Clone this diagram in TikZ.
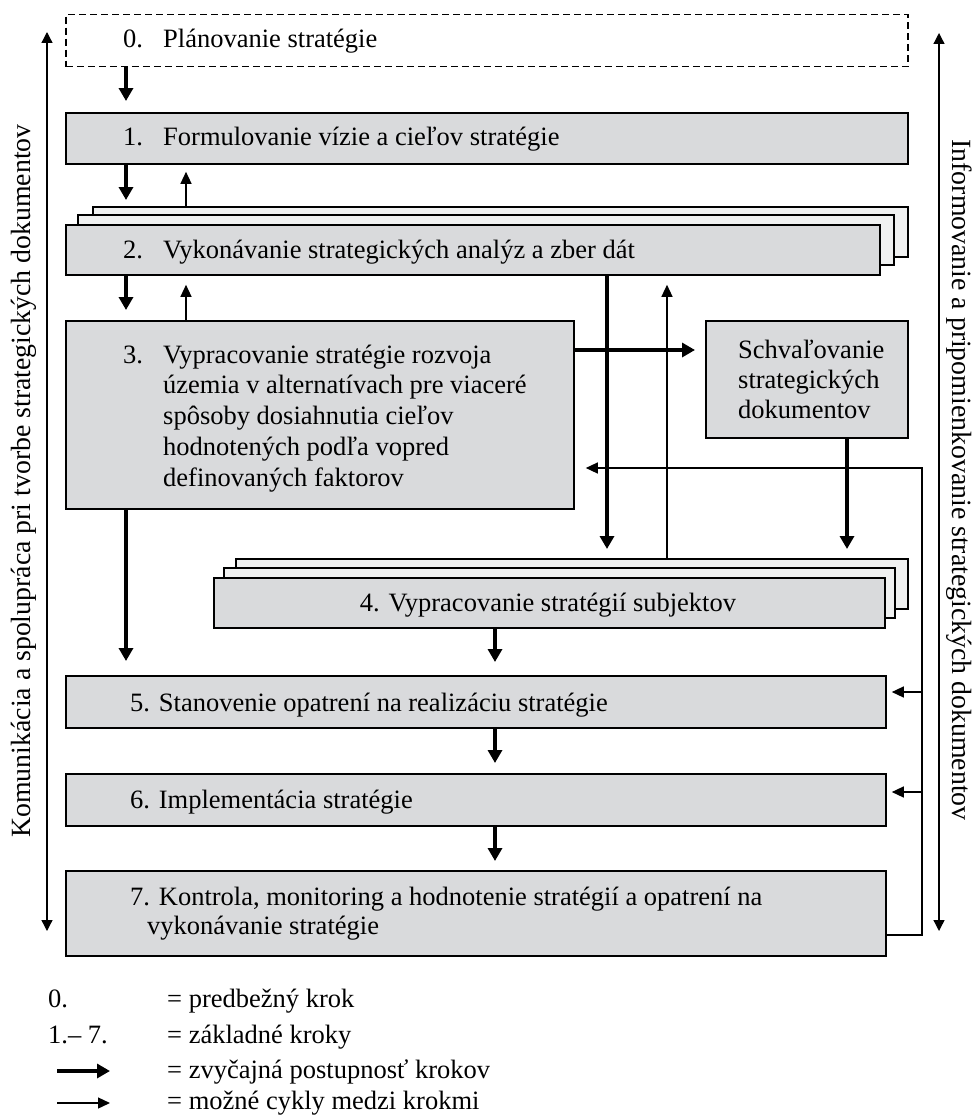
\documentclass[tikz,border=0pt]{standalone}
\usepackage{fontspec}
\setmainfont{Liberation Serif}
\usetikzlibrary{arrows.meta,calc}
\definecolor{boxgray}{RGB}{217,218,220}
\definecolor{backgray}{RGB}{240,241,241}
\newcommand\mylines[1]{\begin{tabular}[t]{@{}l@{}}#1\end{tabular}}
\begin{document}
\begin{tikzpicture}[x=1pt,y=-1pt,
  box/.style={draw, line width=1.8pt, fill=boxgray, rectangle, inner sep=0pt, anchor=north west},
  backbox/.style={box, fill=backgray},
  dashbox/.style={draw, line width=1.5pt, dash pattern=on 7pt off 4pt, rectangle, inner sep=0pt, anchor=north west},
  txt/.style={font=\fontsize{26.5}{30.5}\selectfont, inner sep=0pt, anchor=base west},
  sidetxt/.style={font=\fontsize{27.8}{32}\selectfont, inner sep=0pt},
  thk/.style={line width=4pt, -{Triangle[width=14pt,length=13pt]}},
  thn/.style={line width=1.3pt, -{Triangle[width=11pt,length=12pt]}},
  axisarrow/.style={line width=1.3pt, {Triangle[width=11pt,length=11pt]}-{Triangle[width=11pt,length=11pt]}}
]
\useasboundingbox (0,0) rectangle (974,1116);

% boxes
\node[dashbox, minimum width=842pt, minimum height=52pt] (b0) at (65,14) {};
\node[box, minimum width=842pt, minimum height=51pt] (b1) at (65,112) {};
\node[backbox, minimum width=815pt, minimum height=50pt] (b2c) at (92,206) {};
\node[backbox, minimum width=816pt, minimum height=50pt] (b2b) at (77,214) {};
\node[box, minimum width=814pt, minimum height=50pt] (b2) at (65,224) {};
\node[box, minimum width=508pt, minimum height=188pt] (b3) at (65,320) {};
\node[box, minimum width=202pt, minimum height=117pt] (bs) at (705,320) {};
\node[backbox, minimum width=672pt, minimum height=50pt] (b4c) at (235,558) {};
\node[backbox, minimum width=671pt, minimum height=50pt] (b4b) at (223,567) {};
\node[box, minimum width=671pt, minimum height=50pt] (b4) at (213,577) {};
\node[box, minimum width=820pt, minimum height=52pt] (b5) at (65,675) {};
\node[box, minimum width=820pt, minimum height=52pt] (b6) at (65,773) {};
\node[box, minimum width=820pt, minimum height=85pt] (b7) at (65,870) {};

% texts
\node[txt] (t0n) at (123,48) {0.};
\node[txt] (t0) at (163,48) {Plánovanie stratégie};
\node[txt] (t1n) at (123,145) {1.};
\node[txt] (t1) at (163,145) {Formulovanie vízie a cieľov stratégie};
\node[txt] (t2n) at (123,258) {2.};
\node[txt] (t2) at (163,258) {Vykonávanie strategických analýz a zber dát};
\node[txt] (t3n) at (123,363) {3.};
\node[txt, font=\fontsize{26.5}{30.75}\selectfont] (t3) at (163,363) {\mylines{Vypracovanie stratégie rozvoja\\územia v alternatívach pre viaceré\\spôsoby dosiahnutia cieľov\\hodnotených podľa vopred\\definovaných faktorov}};
\node[txt, font=\fontsize{26.5}{30}\selectfont] (ts) at (738,358) {\mylines{Schvaľovanie\\strategických\\dokumentov}};
\node[txt, anchor=base] (t4) at (548,611) {4. Vypracovanie stratégií subjektov};
\node[txt] (t5) at (130,711) {5. Stanovenie opatrení na realizáciu stratégie};
\node[txt] (t6) at (130,808) {6. Implementácia stratégie};
\node[txt] (t7a) at (130,905) {7. Kontrola, monitoring a hodnotenie stratégií a opatrení na};
\node[txt] (t7b) at (147,934) {vykonávanie stratégie};

% side labels
\node[sidetxt, rotate=90] (lblL) at (24,481) {Komunikácia a spolupráca pri tvorbe strategických dokumentov};
\node[sidetxt, rotate=-90] (lblR) at (959,480) {Informovanie a pripomienkovanie strategických dokumentov};
\coordinate (axL1) at (47,32);
\coordinate (axL2) at (47,931);
\coordinate (axR1) at (939,33);
\coordinate (axR2) at (939,931);
\draw[axisarrow] (axL1) -- (axL2);
\draw[axisarrow] (axR1) -- (axR2);

% columns for connectors
\coordinate (cA) at (126,0);
\coordinate (cB) at (186,0);
\coordinate (cC) at (607,0);
\coordinate (cD) at (667,0);
\coordinate (cE) at (847,0);
\coordinate (cF) at (495,0);
\coordinate (cH) at (0,350);
\coordinate (fbA) at (922,935);
\coordinate (fbB) at (922,468);
\coordinate (fb5) at (922,692);
\coordinate (fb6) at (922,792);

% connectors
\draw[thk, shorten >=11pt] (b0.south -| cA) -- (b1.north -| cA);
\draw[thk, shorten >=6pt] (b1.south -| cA) -- (b2c.north -| cA);
\draw[thn, shorten >=7pt] (b2c.north -| cB) -- (b1.south -| cB);
\draw[thk, shorten >=10pt] (b2.south -| cA) -- (b3.north -| cA);
\draw[thn, shorten >=9pt] (b3.north -| cB) -- (b2.south -| cB);
\draw[thk, shorten >=14pt] (b3.south -| cA) -- (b5.north -| cA);
\draw[thk, shorten >=10pt] (b3.east |- cH) -- (bs.west |- cH);
\draw[thk, shorten >=9pt] (b2.south -| cC) -- (b4c.north -| cC);
\draw[thk, shorten >=9pt] (bs.south -| cE) -- (b4c.north -| cE);
\draw[thn, shorten >=9pt] (b4c.north -| cD) -- (b2.south -| cD);
\draw[thk, shorten >=13pt] (b4.south -| cF) -- (b5.north -| cF);
\draw[thk, shorten >=10pt] (b5.south -| cF) -- (b6.north -| cF);
\draw[thk, shorten >=9pt] (b6.south -| cF) -- (b7.north -| cF);
\draw[thn, shorten >=11pt] (b7.east |- fbA) -- (fbA) -- (fbB) -- (b3.east |- fbB);
\draw[thn, shorten >=5pt] (fb5) -- (b5.east |- fb5);
\draw[thn, shorten >=5pt] (fb6) -- (b6.east |- fb6);

% legend
\node[txt] (l0) at (48,1007) {0.};
\node[txt] (l0t) at (167,1007) {= predbežný krok};
\node[txt] (l1) at (48,1043) {1.– 7.};
\node[txt] (l1t) at (167,1043) {= základné kroky};
\coordinate (la1) at (57,1071);
\coordinate (la2) at (110,1071);
\draw[thk] (la1) -- (la2);
\node[txt] (l2t) at (167,1078) {= zvyčajná postupnosť krokov};
\coordinate (lb1) at (57,1103);
\coordinate (lb2) at (110,1103);
\draw[thn] (lb1) -- (lb2);
\node[txt] (l3t) at (167,1109) {= možné cykly medzi krokmi};
\end{tikzpicture}
\end{document}
